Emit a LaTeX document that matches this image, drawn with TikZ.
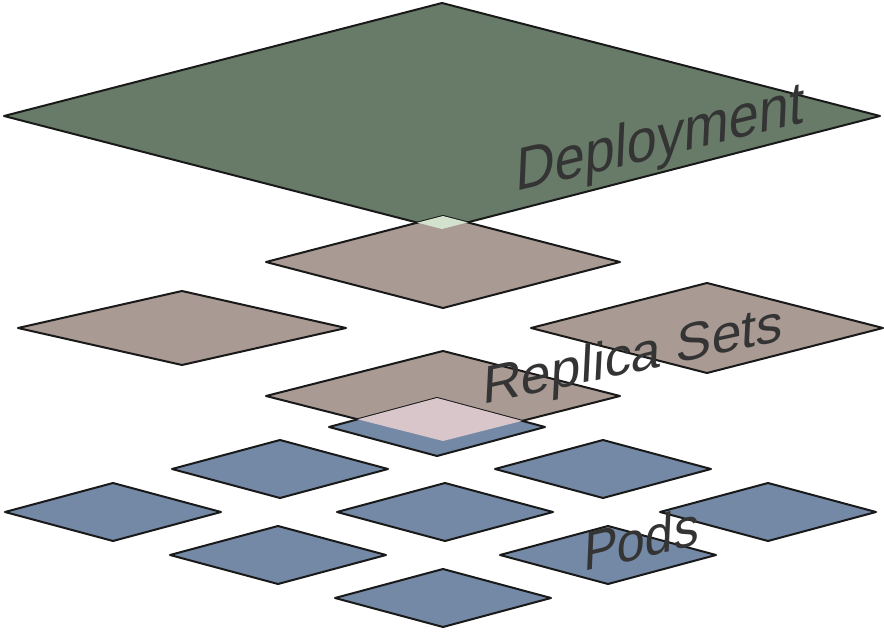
\documentclass[tikz,border=0pt]{standalone}
\usepackage{fontspec}
\setmainfont{Liberation Sans}
\definecolor{depgreen}{HTML}{677B68}
\definecolor{rsbrown}{HTML}{A99A94}
\definecolor{podblue}{HTML}{7389A6}
\definecolor{ovgreen}{HTML}{D3E2CC}
\definecolor{ovpink}{HTML}{D9C6CA}
\definecolor{lblgray}{HTML}{343434}
\tikzset{
  plate/.style={draw=black!90, line width=2pt, line join=round},
  deploy/.style={plate, fill=depgreen},
  rset/.style={plate, fill=rsbrown},
  pod/.style={plate, fill=podblue},
  lbl/.style={text=lblgray, anchor=base west, inner sep=0pt},
}
\newcommand\plate[5]{%
  \path[#1] ({#2-#4},#3) -- (#2,{#3-#5}) -- ({#2+#4},#3) -- (#2,{#3+#5}) -- cycle;}
\newcommand\platepath[4]{({#1-#3},#2) -- (#1,{#2-#4}) -- ({#1+#3},#2) -- (#1,{#2+#4}) -- cycle}
\begin{document}
\begin{tikzpicture}[x=1pt,y=-1pt]
\useasboundingbox (0,0) rectangle (884,636);
% Deployment
\plate{deploy}{442}{116}{438}{113}
% Replica sets
\plate{rset}{443}{262}{177}{46}
\plate{rset}{182}{328}{164}{37}
\plate{rset}{707}{328}{176}{45}
\plate{rset}{443}{396}{177}{45}
% Pods
\foreach \cx/\cy in {437/427, 280/469, 603/469, 113/512, 445/512, 768/512, 278/555, 608/555, 443/598}
  {\plate{pod}{\cx}{\cy}{108}{29}}
% overlaps
\begin{scope}
  \clip \platepath{442}{116}{438}{113};
  \fill[ovgreen] \platepath{443}{262}{177}{46};
\end{scope}
\begin{scope}
  \clip \platepath{443}{396}{177}{45};
  \fill[ovpink] \platepath{437}{427}{108}{29};
\end{scope}
% labels
\node[lbl, font=\fontsize{54}{60}\selectfont, cm={1,0.24,0.05,1.13,(0,0)}] (tdep) at (515,192) {Deployment};
\node[lbl, font=\fontsize{53.5}{60}\selectfont, cm={1,0.215,0.05,1.0,(0,0)}] (trs) at (482,405) {Replica Sets};
\node[lbl, font=\fontsize{50.5}{56}\selectfont, cm={1,0.235,0.05,1.1,(0,0)}] (tpods) at (583,572) {Pods};
\end{tikzpicture}
\end{document}
